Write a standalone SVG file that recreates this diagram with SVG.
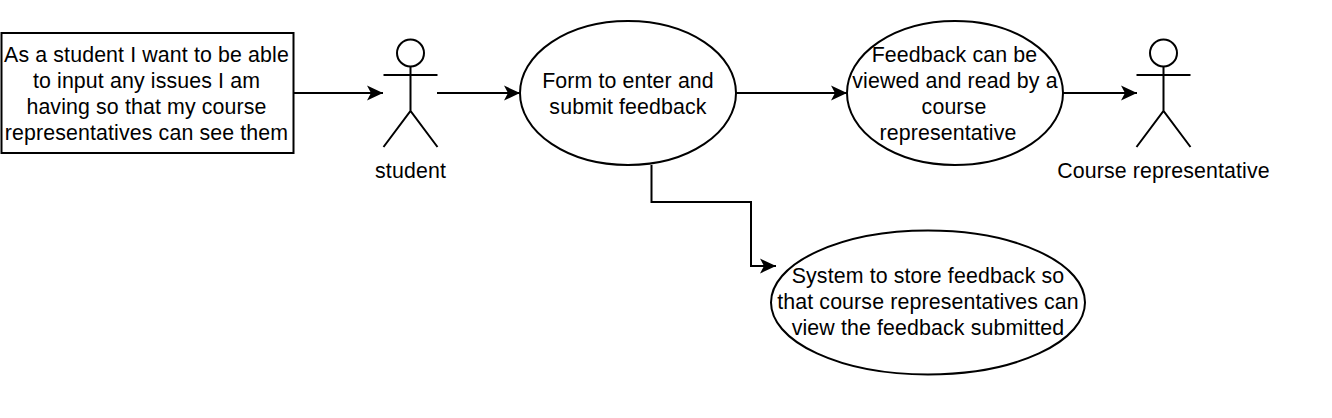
<svg xmlns="http://www.w3.org/2000/svg" width="1332" height="418" viewBox="0 0 1332 418">
<style>
text{font-family:"Liberation Sans",Arial,sans-serif;font-size:21.330px;letter-spacing:.13px;fill:#000;text-anchor:middle}
.s{fill:#fff;stroke:#000;stroke-width:2}
.l{fill:none;stroke:#000;stroke-width:2}
</style>
<defs>
<marker id="a" markerUnits="userSpaceOnUse" markerWidth="18" markerHeight="16" refX="16" refY="8" orient="auto"><path d="M0 0.5L16 8L0 15.5L4 8Z" fill="#000"/></marker>
<g id="actor"><circle class="s" cx="0" cy="53" r="13.5"/><path class="l" d="M0 66.500V111M-27 75H27M-27 147L0 111L27 147"/></g>
</defs>
<rect width="1332" height="418" fill="#fff"/>
<g id="connectors">
<path class="l" marker-end="url(#a)" d="M294 93H383"/>
<path class="l" marker-end="url(#a)" d="M437 93H520"/>
<path class="l" marker-end="url(#a)" d="M736 93H847"/>
<path class="l" marker-end="url(#a)" d="M1063 93H1137"/>
<path class="l" marker-end="url(#a)" d="M651.500 165V202H751V266H776"/>
</g>
<g id="story"><rect class="s" x="1.500" y="33" width="292" height="120"/>
<text x="146.500" y="62">As a student I want to be able</text><text x="146.500" y="88">to input any issues I am</text><text x="146.500" y="114">having so that my course</text><text x="146.500" y="140">representatives can see them</text></g>
<g id="student"><use href="#actor" x="410.500"/><text x="410.500" y="178">student</text></g>
<g id="form"><ellipse class="s" cx="628" cy="93" rx="108" ry="72"/><text x="628" y="88">Form to enter and</text><text x="628" y="114">submit feedback</text></g>
<g id="view"><ellipse class="s" cx="955" cy="93" rx="108" ry="72"/><text x="954.500" y="62">Feedback can be</text><text x="955" y="88">viewed and read by a</text><text x="954" y="114">course</text><text x="948" y="140">representative</text></g>
<g id="rep"><use href="#actor" x="1163.500"/><text x="1163.500" y="178">Course representative</text></g>
<g id="store"><ellipse class="s" cx="928" cy="302.500" rx="157" ry="72"/><text x="928" y="283">System to store feedback so</text><text x="928" y="309">that course representatives can</text><text x="928" y="335">view the feedback submitted</text></g>
</svg>
